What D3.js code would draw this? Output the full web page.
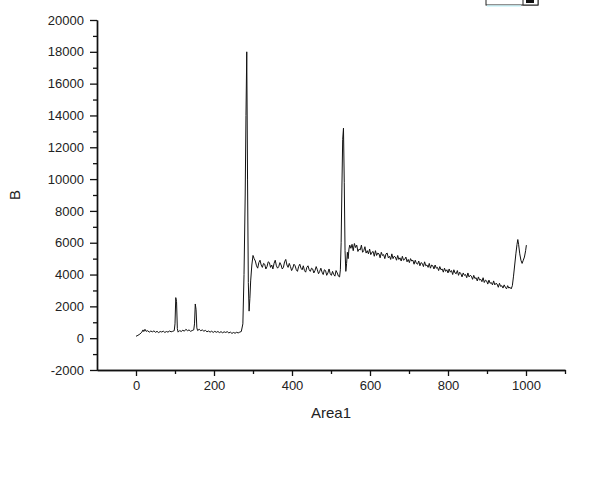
<!DOCTYPE html>
<html>
<head>
<meta charset="utf-8">
<script src="https://cdnjs.cloudflare.com/ajax/libs/d3/7.8.5/d3.min.js"></script>
<style>
  body { margin: 0; background: #fff; }
  svg text { font-family: "Liberation Sans", Arial, sans-serif; fill: #222; }
</style>
</head>
<body>
<div id="chart"></div>
<script>
// Area1 vs B, in pieces
var lowBaseline = [[0,120],[5,180],[10,260],[15,380],[18,520],[20,420],[23,560],[26,430],[30,470],[34,380],[38,450],[42,400],[46,460],[50,370],[54,430],[58,350],[62,420],[66,390],[70,440],[74,360],[78,420],[82,380],[86,450],[90,400],[94,430],[98,470],[100,900],[102,2550],[104,2300],[106,600],[108,380],[112,480],[116,420],[120,500],[124,440],[128,560],[132,470],[136,520],[140,430],[144,480],[148,520],[150,900],[152,2150],[154,1800],[156,650],[158,480],[162,560],[166,470],[170,520],[174,440],[178,490],[182,400],[186,450],[190,380],[194,440],[198,360],[202,430],[206,370],[210,420],[214,350],[218,410],[222,340],[226,400],[230,360],[234,410],[238,330],[242,380],[246,300],[250,360],[254,310],[258,370],[262,330],[266,380],[270,420]];

var firstPeak = [[274,900],[277,4000],[280,9000],[282,14000],[284,18000],[286,10000],[288,3500],[290,1700],[292,2500],[294,3600],[297,4600],[300,5200]];

var midPlateau = [[303,5000],[306,4850],[309,4550],[312,4400],[315,4750],[318,4900],[321,4600],[324,4450],[327,4700],[330,4650],[333,4350],[336,4500],[339,4800],[342,4750],[345,4450],[348,4600],[351,4350],[354,4700],[357,4900],[360,4550],[363,4400],[366,4500],[369,4750],[372,4600],[375,4350],[378,4450],[381,4800],[384,4950],[387,4600],[390,4450],[393,4700],[396,4500],[399,4250],[402,4400],[405,4650],[408,4550],[411,4300],[414,4200],[417,4500],[420,4650],[423,4400],[426,4300],[429,4550],[432,4250],[435,4150],[438,4450],[441,4550],[444,4300],[447,4200],[450,4400],[453,4350],[456,4100],[459,4250],[462,4500],[465,4300],[468,4050],[471,4200],[474,4400],[477,4150],[480,4000],[483,4300],[486,4250],[489,3950],[492,4100],[495,4350],[498,4050],[501,3950],[504,4200],[507,4000],[510,3900],[513,4250],[516,4100],[519,3900],[522,3850]];

var secondPeak = [[524,4300],[526,6000],[528,9500],[530,12500],[532,13200],[534,9800],[536,5500],[538,4200],[540,4700],[542,5400],[544,5000],[546,5600],[548,5850]];

var highPlateau = [[551,5650],[554,5900],[557,5500],[560,5950],[563,5700],[566,5850],[569,5450],[572,5600],[575,5550],[578,5850],[581,5400],[584,5500],[587,5750],[590,5350],[593,5500],[596,5300],[599,5600],[602,5250],[605,5400],[608,5450],[611,5150],[614,5500],[617,5200],[620,5350],[623,5300],[626,5050],[629,5400],[632,5200],[635,5250],[638,5000],[641,5300],[644,5350],[647,5050],[650,5150],[653,4950],[656,5300],[659,5000],[662,5150],[665,5100],[668,4900],[671,5200],[674,4950],[677,5050],[680,4850],[683,5150],[686,4900],[689,4950],[692,5100],[695,4800],[698,4950],[701,4750],[704,5000],[707,4850],[710,4900],[713,4650],[716,4900],[719,4700],[722,4650],[725,4850],[728,4550],[731,4750],[734,4700],[737,4500],[740,4800],[743,4550],[746,4600],[749,4450],[752,4700],[755,4400],[758,4600],[761,4550],[764,4350],[767,4600],[770,4400],[773,4450],[776,4250],[779,4500],[782,4300],[785,4350],[788,4150],[791,4400],[794,4200],[797,4300]];

var tail = [[800,4100],[803,4350],[806,4150],[809,4250],[812,4000],[815,4300],[818,4100],[821,4050],[824,4250],[827,3950],[830,4150],[833,4050],[836,3850],[839,4100],[842,3950],[845,4000],[848,3800],[851,4100],[854,3850],[857,3950],[860,3900],[863,3700],[866,3950],[869,3750],[872,3800],[875,3600],[878,3850],[881,3650],[884,3700],[887,3550],[890,3800],[893,3500],[896,3650],[899,3600],[902,3400],[905,3650],[908,3450],[911,3500],[914,3350],[917,3600],[920,3350],[923,3450],[926,3400],[929,3200],[932,3450],[935,3250],[938,3300],[941,3150],[944,3350],[947,3200],[950,3100],[953,3300],[956,3150],[959,3200],[962,3100],[965,3300],[968,3900],[971,4600],[974,5300],[977,5900],[979,6200],[981,5900],[984,5300],[987,4900],[990,4700],[993,4900],[996,5100],[999,5500],[1001,5850]];

var xMajor = [0, 200, 400, 600, 800, 1000];
var xMinor = [100, 300, 500, 700, 900, 1100];
var yMajor = [-2000, 0, 2000, 4000, 6000, 8000, 10000, 12000, 14000, 16000, 18000, 20000];
var yMinor = [-1000, 1000, 3000, 5000, 7000, 9000, 11000, 13000, 15000, 17000, 19000];

var spectrum = lowBaseline.concat(firstPeak, midPlateau, secondPeak, highPlateau, tail);

/* ****** SVG ****** */
var width = 600, height = 479;
var svg = d3.select("#chart").append("svg")
    .attr("width", width)
    .attr("height", height);

var x = d3.scaleLinear().domain([-100, 1100]).range([97, 565]);
var y = d3.scaleLinear().domain([-2000, 20000]).range([370, 20]);

// plain numbers, ascii minus, no thousands comma
var plain = function(d) { return String(d); };

/* ****** Axes ****** */
function styleAxis(g) {
    g.selectAll("path.domain").attr("stroke", "#111").attr("stroke-width", 1.4);
    g.selectAll(".tick line").attr("stroke", "#111").attr("stroke-width", 1.3);
    g.selectAll("text").style("font-size", "13px").attr("fill", "#222");
}

svg.append("g")
    .attr("transform", "translate(0,370)")
    .call(d3.axisBottom(x).tickValues(xMinor).tickSize(4).tickSizeOuter(0).tickFormat(""))
    .call(styleAxis);
svg.append("g")
    .attr("transform", "translate(0,370)")
    .call(d3.axisBottom(x).tickValues(xMajor).tickSize(6).tickSizeOuter(0).tickPadding(5).tickFormat(plain))
    .call(styleAxis);

svg.append("g")
    .attr("transform", "translate(97,0)")
    .call(d3.axisLeft(y).tickValues(yMinor).tickSize(4).tickSizeOuter(0).tickFormat(""))
    .call(styleAxis);
svg.append("g")
    .attr("transform", "translate(97,0)")
    .call(d3.axisLeft(y).tickValues(yMajor).tickSize(7).tickSizeOuter(0).tickPadding(6).tickFormat(plain))
    .call(styleAxis);

svg.append("text")
    .attr("x", 331).attr("y", 418)
    .attr("text-anchor", "middle")
    .style("font-size", "15px")
    .text("Area1");

svg.append("text")
    .attr("transform", "translate(20,195) rotate(-90)")
    .attr("text-anchor", "middle")
    .style("font-size", "15px")
    .text("B");

/* ****** Line ****** */
var line = d3.line()
    .x(function(d) { return x(d[0]); })
    .y(function(d) { return y(d[1]); });

svg.append("path")
    .datum(spectrum)
    .attr("fill", "none")
    .attr("stroke", "#111")
    .attr("stroke-width", 1)
    .attr("d", line);

/* ****** Legend box, cut off at the top ****** */
var legend = svg.append("g").attr("transform", "translate(486,-12)");
legend.append("rect")
    .attr("width", 52).attr("height", 17)
    .attr("fill", "#fff").attr("stroke", "#222").attr("stroke-width", 1);
legend.append("line")
    .attr("x1", 1).attr("x2", 35).attr("y1", 18).attr("y2", 18)
    .attr("stroke", "#cff6fb").attr("stroke-width", 1.5);
legend.append("rect")
    .attr("x", 37).attr("y", 0).attr("width", 15).attr("height", 17)
    .attr("fill", "#fff").attr("stroke", "#222");
legend.append("rect")
    .attr("x", 40).attr("y", 12).attr("width", 8).attr("height", 3)
    .attr("fill", "#111");
</script>
</body>
</html>
